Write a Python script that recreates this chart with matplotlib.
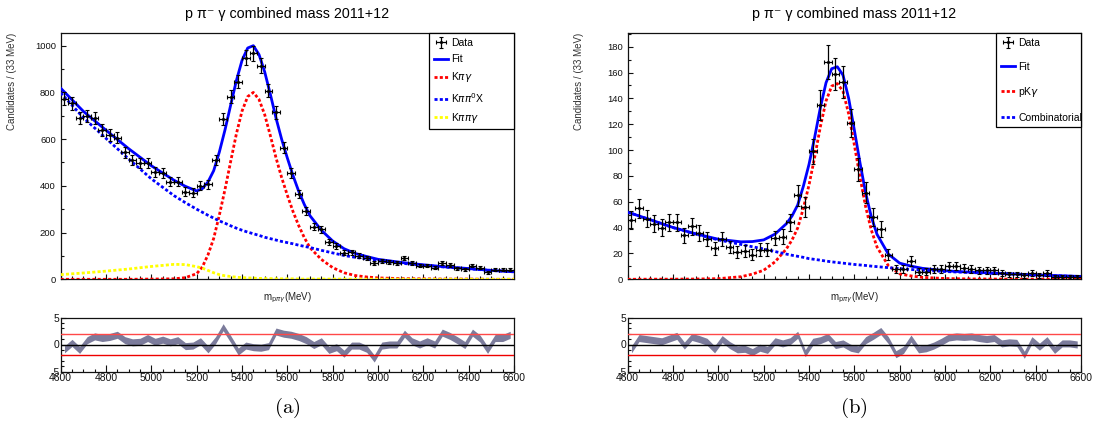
import numpy as np
import matplotlib.pyplot as plt
from matplotlib.ticker import MultipleLocator

plt.rcParams['font.family'] = ['Liberation Sans', 'DejaVu Sans']
plt.rcParams['axes.unicode_minus'] = False

# 60 bins of 33 MeV between 4600 and 6600
edges = np.linspace(4600, 6600, 61)
centres = 0.5 * (edges[1:] + edges[:-1])
half_width = 0.5 * (edges[1] - edges[0])

# ---- p pi- gamma, Kpigamma hypothesis (a) ----
counts_a = [772, 753, 689, 700, 689, 639, 618, 606, 544, 511,
            497, 497, 458, 454, 418, 418, 375, 371, 401, 407,
            511, 686, 782, 846, 949, 967, 915, 808, 714, 564,
            454, 365, 293, 225, 214, 158, 143, 114, 116, 101,
            90, 68, 78, 76, 68, 90, 68, 59, 59, 50,
            68, 61, 47, 43, 59, 50, 30, 40, 40, 40]

pull_a = [-0.9, 0.3, -1.0, 0.8, 1.5, 1.2, 1.4, 1.8, 0.8, 0.4,
          0.5, 1.2, 0.5, 0.9, 0.4, 0.8, -0.3, -0.2, 0.6, -0.9,
          0.8, 3.2, 1.0, -1.3, -0.2, -0.5, -0.6, -0.3, 2.4, 2.0,
          1.8, 1.4, 0.8, -0.1, 0.6, -1.0, -0.5, -1.7, -0.2, -0.2,
          -0.8, -2.6, -0.2, 0.0, 0.0, 2.0, 0.6, 0.0, 0.6, 0.0,
          2.2, 1.6, 0.8, -0.1, 2.2, 1.1, -1.0, 1.2, 1.2, 1.8]

# fit components sampled along the mass axis
mass_a = [4600, 4700, 4800, 4900, 5000, 5100, 5150, 5200, 5225, 5250,
          5275, 5300, 5325, 5350, 5375, 5400, 5425, 5450, 5475, 5500,
          5525, 5550, 5575, 5600, 5625, 5650, 5675, 5700, 5750, 5800,
          5850, 5900, 5950, 6000, 6100, 6200, 6300, 6400, 6500, 6600]
kpig_a = [0, 0, 0, 0, 1, 2, 7, 24, 53, 105,
          175, 275, 385, 505, 622, 720, 782, 800, 770, 705,
          615, 520, 435, 360, 290, 230, 178, 135, 85, 50,
          28, 16, 10, 6, 3, 2, 1, 1, 0, 0]
kpipi0x_a = [798, 692, 603, 515, 430, 358, 328, 300, 287, 274,
             262, 250, 240, 229, 219, 210, 202, 195, 188, 180,
             174, 168, 162, 157, 152, 146, 141, 136, 124, 113,
             102, 94, 87, 79, 69, 60, 52, 45, 38, 32]
kpipig_a = [20, 27, 35, 44, 55, 64, 63, 54, 48, 38,
            28, 20, 15, 12, 9, 7, 6, 5, 4, 3,
            3, 2, 2, 2, 2, 1, 1, 1, 1, 1,
            1, 0.5, 0.5, 0.5, 0.5, 0, 0, 0, 0, 0]

# ---- p pi- gamma, pKgamma hypothesis (b) ----
counts_b = [46, 55, 47, 43, 40, 44, 44, 34, 41, 36,
            31, 24, 31, 25, 21, 22, 19, 23, 23, 32,
            33, 44, 65, 56, 99, 135, 168, 159, 153, 121,
            85, 67, 48, 39, 19, 8, 8, 14, 6, 6,
            8, 8, 10, 10, 9, 8, 7, 7, 7, 5,
            4, 4, 3, 5, 3, 5, 2, 2, 2, 2]

pull_b = [-0.9, 1.2, 1.0, 0.8, 0.6, 1.1, 1.6, -0.2, 1.4, 1.0,
          0.5, -0.9, 1.0, -0.1, -0.9, -0.8, -1.4, -0.6, -1.0, 0.6,
          0.2, 0.6, 1.8, -1.6, 0.5, 0.8, 1.4, -0.1, 0.2, -0.6,
          -0.9, 0.8, 1.6, 2.5, 0.8, -1.8, -1.0, 1.1, -0.9, -0.7,
          -0.2, 0.5, 1.3, 1.5, 1.4, 1.5, 1.2, 1.0, 1.2, 0.2,
          0.4, 0.3, -1.9, 0.8, -0.4, 0.8, -1.0, 0.2, 0.2, 0.0]

mass_b = [4600, 4700, 4800, 4900, 5000, 5100, 5150, 5200, 5250, 5300,
          5325, 5350, 5375, 5400, 5425, 5450, 5475, 5500, 5525, 5550,
          5575, 5600, 5625, 5650, 5675, 5700, 5750, 5800, 5850, 5900,
          6000, 6100, 6200, 6300, 6400, 6500, 6600]
pkg_b = [0, 0.1, 0.1, 0.2, 0.5, 2, 4, 7, 13.5, 23.5,
         30.4, 39.7, 55, 73, 94.6, 118, 138, 149.5, 151.5, 145.5,
         128, 104, 79, 56, 38, 25, 10.5, 4.2, 2.6, 1.5,
         0.6, 0.3, 0.2, 0.1, 0.1, 0.1, 0.1]
comb_b = [52, 46, 40, 35, 30.5, 27, 25.2, 23.5, 21.5, 19.5,
          18.6, 17.8, 17, 16, 15.4, 14.8, 14.1, 13.5, 13, 12.5,
          12, 11.5, 11.1, 10.7, 10.2, 9.8, 9.0, 8.3, 7.6, 7.0,
          6.0, 5.3, 4.7, 4.0, 3.3, 2.7, 2.1]

W, H = 1094, 433
fig = plt.figure(figsize=(W / 100, H / 100), dpi=100)


def box(l, t, r, b):
    return [l / W, 1 - b / H, (r - l) / W, (b - t) / H]


dotted = (0, (1.1, 0.8))
band_colour = '#7b7b9b'


def style_axes(ax):
    for s in ax.spines.values():
        s.set_linewidth(0.9)
        s.set_color('#111111')
    ax.tick_params(which='both', direction='in', top=False, right=False,
                   labelsize=6.8, width=0.8, colors='#111111')
    ax.tick_params(which='major', length=3.5)
    ax.tick_params(which='minor', length=2)


def draw(left, counts, pulls, lines, ymax, ymajor, yminor, tag, spacing):
    ax = fig.add_axes(box(left, 33.3, left + 453.3, 279.3))
    axp = fig.add_axes(box(left, 317.5, left + 453.3, 371.5))

    counts = np.asarray(counts, dtype=float)
    data = ax.errorbar(centres, counts, xerr=half_width, yerr=np.sqrt(counts),
                       fmt='.', ms=2.5, color='black', ecolor='black', elinewidth=0.9,
                       capsize=1.3, capthick=0.8, zorder=4)
    handles = [data]
    labels = ['Data']
    for xs, ys, colour, ls, lab in lines:
        h, = ax.plot(xs, ys, color=colour, lw=2, ls=ls, zorder=3)
        handles.append(h)
        labels.append(lab)

    ax.set_xlim(4600, 6600)
    ax.set_ylim(0, ymax)
    ax.xaxis.set_major_locator(MultipleLocator(200))
    ax.xaxis.set_minor_locator(MultipleLocator(50))
    ax.yaxis.set_major_locator(MultipleLocator(ymajor))
    ax.yaxis.set_minor_locator(MultipleLocator(yminor))
    style_axes(ax)
    ax.tick_params(labelbottom=False)

    ax.set_title('p π⁻ γ combined mass 2011+12', fontsize=10.3, pad=11)
    ax.text(0.5, -0.045, r'm$_{\mathrm{p}\pi\gamma}$(MeV)', transform=ax.transAxes,
            ha='center', va='top', fontsize=7, color='#222222')
    fig.text((left - 49) / W, 1 - 33 / H, 'Candidates / (33 MeV)', rotation=90,
             ha='center', va='top', fontsize=7, color='#333333')

    leg = ax.legend(handles, labels, loc='upper left', mode='expand',
                    bbox_to_anchor=(0.8125, 0.0, 0.1875, 1.0), borderaxespad=0,
                    fontsize=7.5, fancybox=False, edgecolor='black', framealpha=1,
                    handlelength=1.4, handletextpad=0.3, borderpad=0.45,
                    labelspacing=spacing)
    leg.get_frame().set_linewidth(0.9)

    pulls = np.asarray(pulls)
    axp.fill_between(centres, pulls - 0.65, pulls + 0.65, color=band_colour, lw=0, zorder=2)
    axp.axhline(0, color='black', lw=1, zorder=3)
    axp.axhline(2, color='#ff4848', lw=1, zorder=3)
    axp.axhline(-2, color='#ee0000', lw=1, zorder=3)
    axp.set_xlim(4600, 6600)
    axp.set_ylim(-5, 5)
    axp.xaxis.set_major_locator(MultipleLocator(200))
    axp.xaxis.set_minor_locator(MultipleLocator(50))
    axp.yaxis.set_major_locator(MultipleLocator(5))
    axp.yaxis.set_minor_locator(MultipleLocator(1))
    style_axes(axp)
    axp.tick_params(labelsize=7.5, pad=1)
    axp.tick_params(axis='x', which='major', length=5)
    axp.tick_params(axis='x', which='minor', length=2.5)

    fig.text((left + 226.5) / W, 1 - 408 / H, r'$\mathrm{(' + tag + ')}$',
             math_fontfamily='cm', fontsize=15, ha='center', va='center')


total_a = np.add(np.add(kpig_a, kpipi0x_a), kpipig_a)
draw(60.7, counts_a, pull_a,
     [(mass_a, total_a, 'blue', '-', 'Fit'),
      (mass_a, kpig_a, 'red', dotted, r'K$\pi\gamma$'),
      (mass_a, kpipi0x_a, 'blue', dotted, r'K$\pi\pi^{0}$X'),
      (mass_a, kpipig_a, '#ffff00', dotted, r'K$\pi\pi\gamma$')],
     1053, 200, 100, 'a', 0.6)

total_b = np.add(pkg_b, comb_b)
draw(627.7, counts_b, pull_b,
     [(mass_b, total_b, 'blue', '-', 'Fit'),
      (mass_b, pkg_b, 'red', dotted, r'pK$\gamma$'),
      (mass_b, comb_b, 'blue', dotted, 'Combinatorial')],
     190.4, 20, 10, 'b', 1.3)

fig.savefig('out.png', dpi=100)
